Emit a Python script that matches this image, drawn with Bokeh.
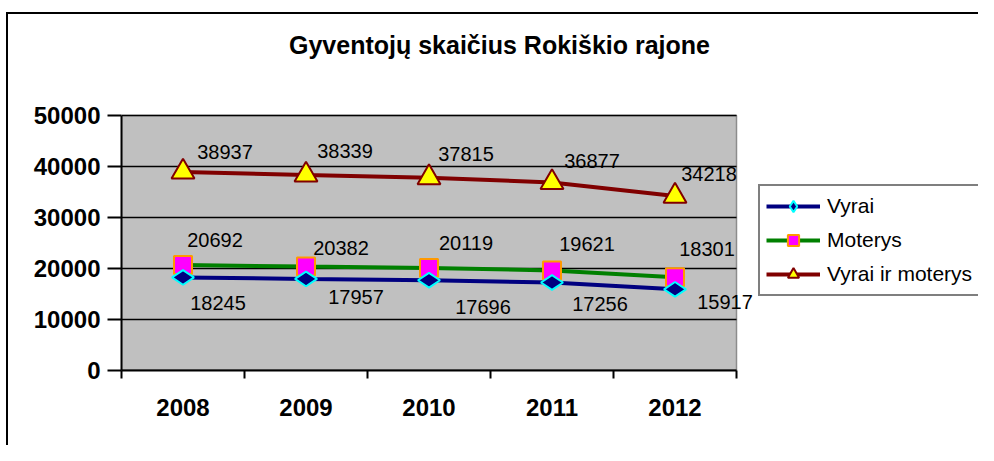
import math
from bokeh.plotting import figure
from bokeh.models import (Range1d, FixedTicker, Legend, LegendItem, Label,
                          ColumnDataSource, BasicTickFormatter)
from bokeh.core.properties import value
from bokeh.embed import file_html
from bokeh.resources import INLINE

# ---- data ----
years = ["2008", "2009", "2010", "2011", "2012"]
vyrai = [18245, 17957, 17696, 17256, 15917]
moterys = [20692, 20382, 20119, 19621, 18301]
visi = [38937, 38339, 37815, 36877, 34218]
y_ticks = [0, 10000, 20000, 30000, 40000, 50000]
title_text = "Gyventojų skaičius Rokiškio rajone"
series_names = ["Vyrai", "Moterys", "Vyrai ir moterys"]

# ---- label offsets (screen px, styling only) ----
vyrai_dx = [35, 50, 54, 48, 50]
vyrai_dy = [26, 18, 27, 22, 13]
moterys_dx = [32, 35, 37, 35, 32]
moterys_dy = [-25, -19, -25, -26, -28]
visi_dx = [42, 39, 37, 40, 34]
visi_dy = [-20, -24, -24, -21, -22]

FONT = "Liberation Sans"
W, H = 978, 445
LEFT, BOTTOM = 121, 75          # panel sizes
UNIT_PX = 123                    # px per category
PLOT_TOP_PX = 115                # y of the 50000 line from the top
n = len(years)
frame_w = W - LEFT
frame_h = H - BOTTOM
x_end = frame_w / UNIT_PX
y_end = y_ticks[-1] * frame_h / (frame_h - PLOT_TOP_PX)

x = [i + 0.5 for i in range(n)]

p = figure(width=W, height=H, output_backend="svg", toolbar_location=None,
           title=None,
           x_range=Range1d(0, x_end), y_range=Range1d(0, y_end),
           min_border_left=LEFT, min_border_right=0, min_border_top=0,
           min_border_bottom=BOTTOM)
p.styles = {
    "background": "linear-gradient(#000,#000) 6px 12px / 2px 100% no-repeat, "
                  "linear-gradient(#000,#000) 6px 12px / 100% 2px no-repeat, #fff"
}
p.background_fill_alpha = 0
p.border_fill_alpha = 0
p.outline_line_color = None

# plot area (gray) and grid lines, bounded to the data extent
p.quad(left=0, right=n, bottom=y_ticks[0], top=y_ticks[-1],
       fill_color="#C0C0C0", line_color="#8C8C8C", line_width=1.5)
p.segment(x0=[0] * len(y_ticks), x1=[n] * len(y_ticks), y0=y_ticks, y1=y_ticks,
          line_color="black", line_width=1.5)
p.xgrid.grid_line_color = None
p.ygrid.grid_line_color = None

# y axis
p.yaxis.bounds = (y_ticks[0], y_ticks[-1])
p.yaxis.ticker = FixedTicker(ticks=y_ticks)
p.yaxis.formatter = BasicTickFormatter(use_scientific=False)
p.yaxis.axis_line_color = "black"
p.yaxis.axis_line_width = 2
p.yaxis.major_tick_out = 14
p.yaxis.major_tick_in = 0
p.yaxis.major_tick_line_color = "black"
p.yaxis.major_tick_line_width = 2
p.yaxis.minor_tick_line_color = None
p.yaxis.major_label_text_font = FONT
p.yaxis.major_label_text_font_style = "bold"
p.yaxis.major_label_text_font_size = "24px"
p.yaxis.major_label_text_color = "black"
p.yaxis.major_label_standoff = 7

# x axis
p.xaxis.bounds = (0, n)
p.xaxis.ticker = FixedTicker(ticks=x, minor_ticks=list(range(n + 1)))
p.xaxis.major_label_overrides = {xx: yy for xx, yy in zip(x, years)}
p.xaxis.axis_line_color = "black"
p.xaxis.axis_line_width = 2
p.xaxis.major_tick_out = 0
p.xaxis.major_tick_in = 0
p.xaxis.minor_tick_out = 8
p.xaxis.minor_tick_in = 0
p.xaxis.minor_tick_line_color = "black"
p.xaxis.minor_tick_line_width = 2
p.xaxis.major_label_text_font = FONT
p.xaxis.major_label_text_font_style = "bold"
p.xaxis.major_label_text_font_size = "24px"
p.xaxis.major_label_text_color = "black"
p.xaxis.major_label_standoff = 20

# series: lines first, then markers
l1 = p.line(x, vyrai, line_color="#000080", line_width=4)
l2 = p.line(x, moterys, line_color="#008000", line_width=4)
l3 = p.line(x, visi, line_color="#800000", line_width=4)
m2 = p.scatter(x, moterys, marker="square", size=18, fill_color="#FF00FF",
               line_color="#FF9900", line_width=2)
m3 = p.scatter(x, visi, marker="triangle", size=23, fill_color="#FFFF00",
               line_color="#800000", line_width=2)
m1 = p.scatter(x, vyrai, marker="diamond", size=22, angle=math.pi / 2,
               fill_color="#000080", line_color="#00FFFF", line_width=2)

# data labels
for vals, dx, dy in ((vyrai, vyrai_dx, vyrai_dy), (moterys, moterys_dx, moterys_dy),
                     (visi, visi_dx, visi_dy)):
    src = ColumnDataSource(dict(x=x, y=vals, t=[str(v) for v in vals], dx=dx, dy=dy))
    p.text(x="x", y="y", text="t", x_offset="dx", y_offset="dy", source=src,
           text_font=value(FONT), text_font_size="20px", text_color="black",
           text_align="center", text_baseline="middle")

legend = Legend(items=[
    LegendItem(label=series_names[0], renderers=[l1, m1]),
    LegendItem(label=series_names[1], renderers=[l2, m2]),
    LegendItem(label=series_names[2], renderers=[l3, m3]),
], location=(758 - LEFT, frame_h - 296))
legend.border_line_color = "black"
legend.border_line_width = 2
legend.background_fill_color = "white"
legend.background_fill_alpha = 1
legend.label_text_font = FONT
legend.label_text_font_size = "21px"
legend.label_text_color = "black"
legend.glyph_width = 54
legend.glyph_height = 28
legend.label_height = 28
legend.label_width = 190
legend.spacing = 6
legend.padding = 6
legend.margin = 0
legend.label_standoff = 7
p.add_layout(legend, "center")

p.add_layout(Label(x=499 - LEFT, y=frame_h - 44, x_units="screen", y_units="screen",
                   text=title_text, text_font=FONT, text_font_style="bold",
                   text_font_size="25px", text_align="center",
                   text_baseline="middle", text_color="black"))

open("out.html", "w").write(file_html(p, INLINE))
